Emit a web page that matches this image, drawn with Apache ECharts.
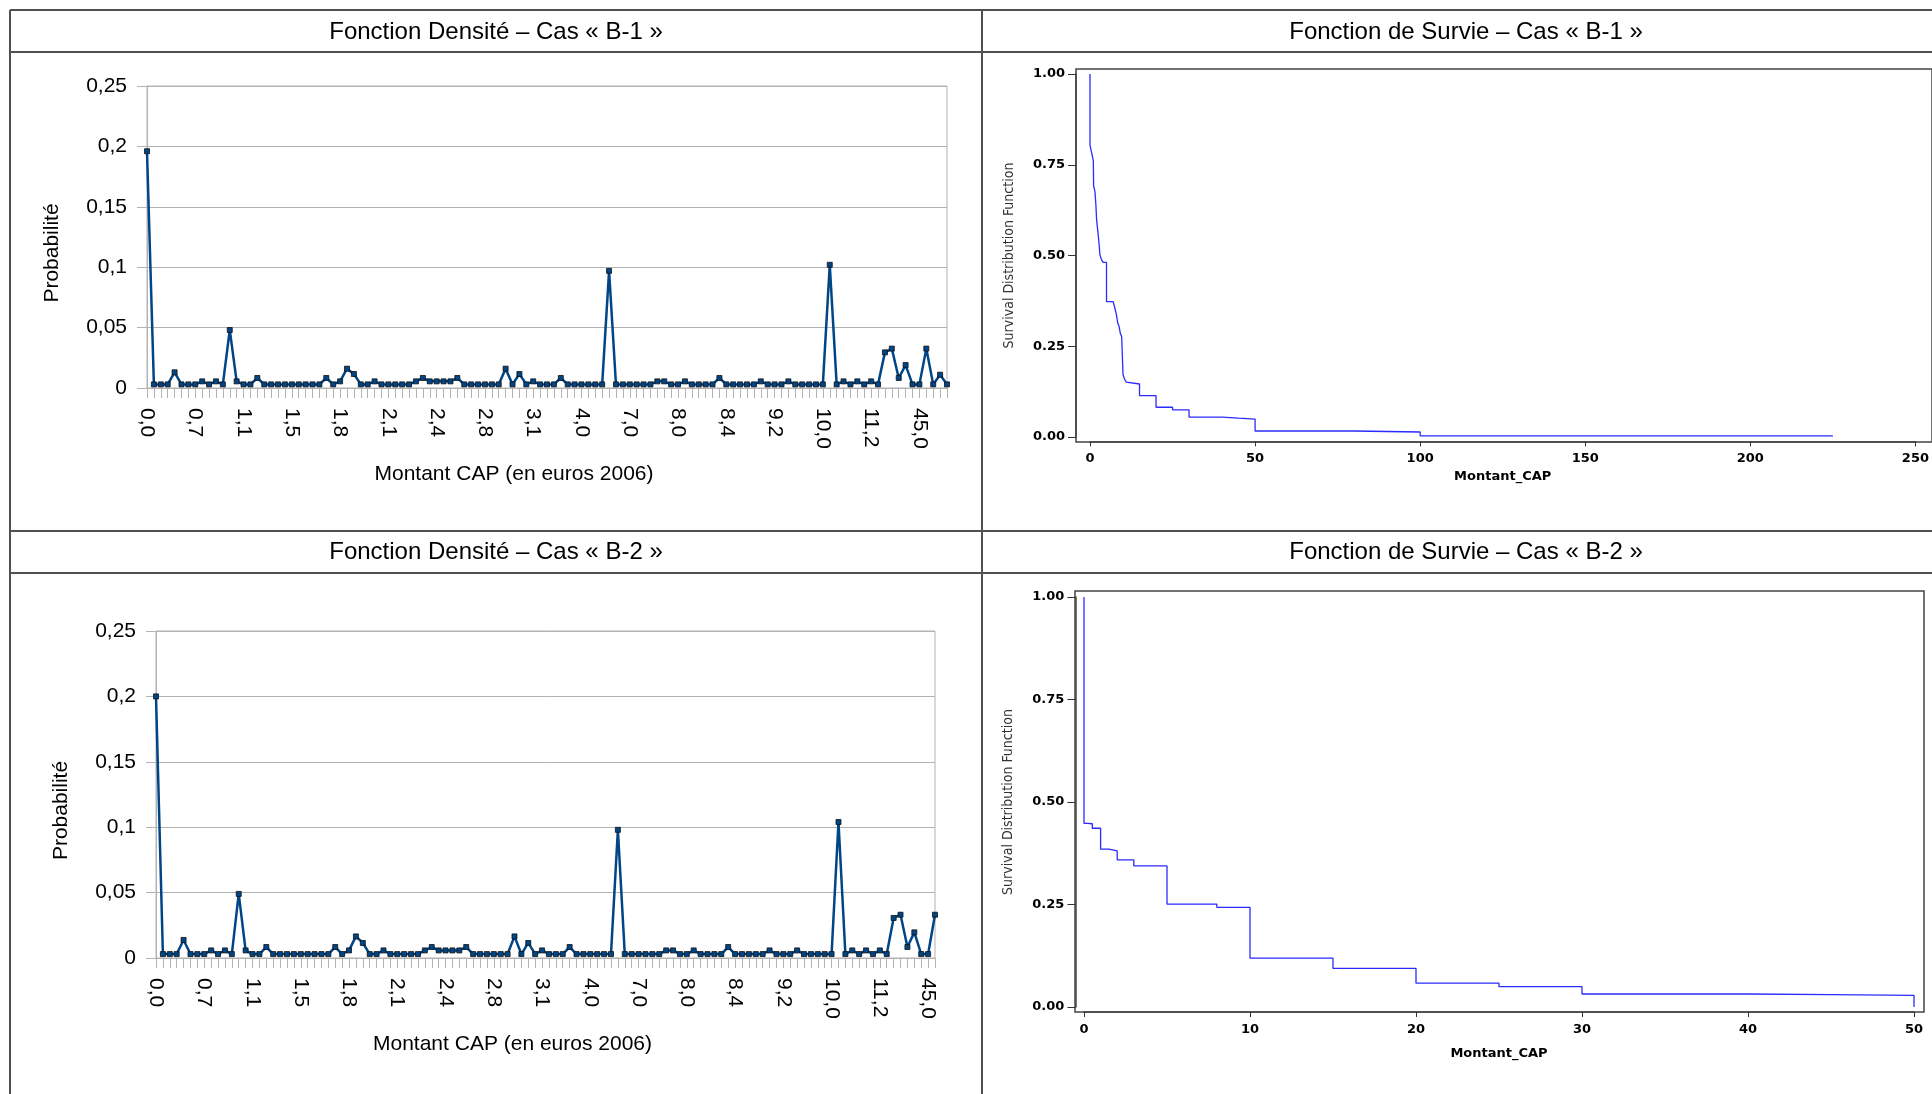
<!DOCTYPE html>
<html>
<head>
<meta charset="utf-8">
<script src="https://cdn.jsdelivr.net/npm/echarts@6/dist/echarts.min.js"></script>
<style>
  html, body { margin: 0; padding: 0; background: #fff; }
  #chart { width: 1932px; height: 1094px; }
</style>
</head>
<body>
<div id="chart"></div>
<script>
// montants CAP (categories, en euros 2006)
var montants = [
  0.0, 0.1, 0.2, 0.3, 0.4, 0.5, 0.6, 0.7, 0.75, 0.8,
  0.9, 0.95, 1.0, 1.05, 1.1, 1.15, 1.2, 1.25, 1.3, 1.35,
  1.4, 1.5, 1.52, 1.55, 1.6, 1.65, 1.7, 1.75, 1.8, 1.85,
  1.9, 1.95, 2.0, 2.02, 2.05, 2.1, 2.15, 2.2, 2.25, 2.3,
  2.33, 2.35, 2.4, 2.45, 2.5, 2.55, 2.6, 2.65, 2.7, 2.8,
  2.85, 2.9, 3.0, 3.02, 3.05, 3.08, 3.1, 3.2, 3.3, 3.4,
  3.5, 3.6, 3.8, 4.0, 4.2, 4.5, 4.8, 5.0, 5.5, 6.0,
  7.0, 7.2, 7.4, 7.5, 7.6, 7.8, 7.9, 8.0, 8.05, 8.1,
  8.15, 8.2, 8.25, 8.3, 8.4, 8.5, 8.6, 8.7, 8.8, 9.0,
  9.1, 9.2, 9.3, 9.4, 9.5, 9.6, 9.7, 9.8, 9.96, 10.0,
  10.2, 10.4, 10.5, 10.8, 11.0, 11.2, 12.0, 15.0, 20.0, 25.0,
  30.0, 40.0, 45.0, 50.0, 80.0, 100.0, 225.0
];

// densite cas B-1 (117 points)
var densiteB1 = [
  0.196, 0.003, 0.003, 0.003, 0.013, 0.003, 0.003, 0.003, 0.0055, 0.003,
  0.0055, 0.003, 0.048, 0.0055, 0.003, 0.003, 0.0083, 0.003, 0.003, 0.003,
  0.003, 0.003, 0.003, 0.003, 0.003, 0.003, 0.0083, 0.003, 0.0055, 0.016,
  0.0116, 0.003, 0.003, 0.0055, 0.003, 0.003, 0.003, 0.003, 0.003, 0.0055,
  0.0083, 0.0055, 0.0055, 0.0055, 0.0055, 0.0083, 0.003, 0.003, 0.003, 0.003,
  0.003, 0.003, 0.016, 0.003, 0.0116, 0.003, 0.0055, 0.003, 0.003, 0.003,
  0.0083, 0.003, 0.003, 0.003, 0.003, 0.003, 0.003, 0.097, 0.003, 0.003,
  0.003, 0.003, 0.003, 0.003, 0.0055, 0.0055, 0.003, 0.003, 0.0055, 0.003,
  0.003, 0.003, 0.003, 0.0083, 0.003, 0.003, 0.003, 0.003, 0.003, 0.0055,
  0.003, 0.003, 0.003, 0.0055, 0.003, 0.003, 0.003, 0.003, 0.003, 0.102,
  0.003, 0.0055, 0.003, 0.0055, 0.003, 0.0055, 0.003, 0.0295, 0.0326, 0.0083,
  0.019, 0.003, 0.003, 0.0326, 0.003, 0.011, 0.003
];

// densite cas B-2 (114 points)
var densiteB2 = [
  0.2, 0.003, 0.003, 0.003, 0.0138, 0.003, 0.003, 0.003, 0.0058, 0.003,
  0.0058, 0.003, 0.049, 0.0058, 0.003, 0.003, 0.0084, 0.003, 0.003, 0.003,
  0.003, 0.003, 0.003, 0.003, 0.003, 0.003, 0.0084, 0.003, 0.0058, 0.0165,
  0.0115, 0.003, 0.003, 0.0058, 0.003, 0.003, 0.003, 0.003, 0.003, 0.0058,
  0.0084, 0.0058, 0.0058, 0.0058, 0.0058, 0.0084, 0.003, 0.003, 0.003, 0.003,
  0.003, 0.003, 0.0165, 0.003, 0.0115, 0.003, 0.0058, 0.003, 0.003, 0.003,
  0.0084, 0.003, 0.003, 0.003, 0.003, 0.003, 0.003, 0.098, 0.003, 0.003,
  0.003, 0.003, 0.003, 0.003, 0.0058, 0.0058, 0.003, 0.003, 0.0058, 0.003,
  0.003, 0.003, 0.003, 0.0084, 0.003, 0.003, 0.003, 0.003, 0.003, 0.0058,
  0.003, 0.003, 0.003, 0.0058, 0.003, 0.003, 0.003, 0.003, 0.003, 0.104,
  0.003, 0.0058, 0.003, 0.0058, 0.003, 0.0058, 0.003, 0.0306, 0.0331, 0.0084,
  0.0196, 0.003, 0.003, 0.0331
];
var montantsB2 = montants.slice(0, densiteB2.length);

// fonction de survie (montant, S)
var survieB1 = [
  [0, 1.0], [0, 0.804], [0.5, 0.783], [1.0, 0.762], [1.1, 0.692], [1.5, 0.676],
  [1.8, 0.637], [2.0, 0.598], [2.5, 0.556], [2.8, 0.527], [3.0, 0.502], [3.5, 0.488],
  [4.0, 0.481], [5.0, 0.373], [7.0, 0.369], [7.5, 0.356], [8.0, 0.337], [8.4, 0.314],
  [8.8, 0.305], [9.2, 0.285], [9.6, 0.276], [10.0, 0.172], [10.3, 0.164], [10.6, 0.157],
  [11.0, 0.151], [11.2, 0.146], [15, 0.114], [20, 0.082], [25, 0.075], [30, 0.055],
  [40, 0.052], [45, 0.0495], [50, 0.0165], [80, 0.0138], [100, 0.003], [225, 0.003]
];
var survieB2 = [
  [0, 1.0], [0, 0.448], [0.2, 0.447], [0.5, 0.436], [1.0, 0.385], [1.5, 0.381],
  [2, 0.359], [3, 0.344], [5, 0.251], [8, 0.243], [10, 0.119], [15, 0.094],
  [20, 0.058], [25, 0.0495], [30, 0.0317], [40, 0.030], [45, 0.0284], [50, 0.0284], [50, 0.0]
];

var sansFont = "'Liberation Sans', Arial, sans-serif";
var sasFont = "'DejaVu Sans', sans-serif";
var gridGray = "#b3b3b3";
var tableCol = "#505050";
var cadreCol = "#444";

function virgule(v) {
  return String(+Number(v).toFixed(2)).replace(".", ",");
}

function densiteAxes(idx, cats) {
  var x = {
    type: "category",
    gridIndex: idx,
    data: cats,
    boundaryGap: false,
    name: "Montant CAP (en euros 2006)",
    nameLocation: "middle",
    nameGap: 76,
    nameTextStyle: { fontFamily: sansFont, fontSize: 21, color: "#000", padding: [0, 66, 0, 0] },
    axisLine: { lineStyle: { color: gridGray, width: 1 } },
    axisTick: { show: true, inside: false, interval: 0, length: 10, lineStyle: { color: gridGray } },
    axisLabel: {
      interval: 6,
      rotate: -90,
      margin: 20,
      fontFamily: sansFont,
      fontSize: 21,
      color: "#000",
      formatter: function (v) { return Number(v).toFixed(1).replace(".", ","); }
    },
    splitLine: { show: false }
  };
  var y = {
    type: "value",
    gridIndex: idx,
    min: 0,
    max: 0.25,
    interval: 0.05,
    name: "Probabilité",
    nameLocation: "middle",
    nameGap: 84,
    nameRotate: 90,
    nameTextStyle: { fontFamily: sansFont, fontSize: 21, color: "#000", padding: [0, 32, 0, 0] },
    axisLine: { show: true, lineStyle: { color: gridGray, width: 1 } },
    axisTick: { show: true, inside: false, length: 10, lineStyle: { color: gridGray } },
    axisLabel: { margin: 20, fontFamily: sansFont, fontSize: 21, color: "#000", formatter: virgule },
    splitLine: { show: true, lineStyle: { color: gridGray, width: 1 } }
  };
  return { x: x, y: y };
}

// survival axes: data grid spans exactly the tick range, axes pushed out to the frame by offset
function survieAxes(idx, xmax, xint, xoff, yoff, nameGapX) {
  var x = {
    type: "value",
    gridIndex: idx,
    position: "bottom",
    min: 0,
    max: xmax,
    interval: xint,
    offset: xoff,
    name: "Montant_CAP",
    nameLocation: "middle",
    nameGap: nameGapX,
    nameTextStyle: { fontFamily: sasFont, fontWeight: "bold", fontSize: 13, color: "#000" },
    axisLine: { show: true, onZero: false, lineStyle: { color: cadreCol, width: 1.5 } },
    axisTick: { show: true, inside: false, length: 5, lineStyle: { color: "#333" } },
    axisLabel: { inside: false, margin: 11, fontFamily: sasFont, fontWeight: "bold", fontSize: 13, color: "#000" },
    splitLine: { show: false }
  };
  var y = {
    type: "value",
    gridIndex: idx,
    position: "left",
    min: 0,
    max: 1,
    interval: 0.25,
    offset: yoff,
    name: "Survival Distribution Function",
    nameLocation: "middle",
    nameGap: 60,
    nameRotate: 90,
    nameTextStyle: { fontFamily: "'Liberation Sans Narrow', 'DejaVu Sans Condensed', 'Liberation Sans', sans-serif", fontSize: 14, color: "#333" },
    axisLine: { show: true, onZero: false, lineStyle: { color: cadreCol, width: 1.5 } },
    axisTick: { show: true, inside: false, length: 8, lineStyle: { color: "#333" } },
    axisLabel: {
      inside: false,
      margin: 11,
      fontFamily: sasFont,
      fontWeight: "bold",
      fontSize: 13,
      color: "#000",
      formatter: function (v) { return Number(v).toFixed(2); }
    },
    splitLine: { show: false }
  };
  return { x: x, y: y };
}

// hidden axes for the frame grids
function cadreAxes(idx) {
  return {
    x: { type: "value", gridIndex: idx, show: false, min: 0, max: 1 },
    y: { type: "value", gridIndex: idx, show: false, min: 0, max: 1 }
  };
}

var a0 = densiteAxes(0, montants);
var a1 = survieAxes(1, 250, 50, 4.4, 14, 29);
var a2 = densiteAxes(2, montantsB2);
var a3 = survieAxes(3, 50, 10, 5, 8.6, 35);
var c1 = cadreAxes(4);
var c3 = cadreAxes(5);

function ligne(x1, y1, x2, y2) {
  return { type: "line", shape: { x1: x1, y1: y1, x2: x2, y2: y2 }, style: { stroke: tableCol, lineWidth: 2 } };
}
function titre(txt, x, y) {
  return {
    type: "text", x: x, y: y,
    style: { text: txt, fontFamily: sansFont, fontSize: 24, fill: "#000", align: "center", verticalAlign: "middle" }
  };
}

var densiteSerie = {
  type: "line",
  symbol: "rect",
  symbolSize: 5,
  showAllSymbol: true,
  lineStyle: { color: "#004586", width: 2.5 },
  itemStyle: { color: "#004586", borderColor: "#111", borderWidth: 0.8 }
};

var option = {
  animation: false,
  backgroundColor: "#fff",
  graphic: [
    ligne(10, 10, 1932, 10),
    ligne(10, 10, 10, 1094),
    ligne(982, 10, 982, 1094),
    ligne(10, 52, 1932, 52),
    ligne(10, 531, 1932, 531),
    ligne(10, 573, 1932, 573),
    titre("Fonction Densité – Cas « B-1 »", 496, 32),
    titre("Fonction de Survie – Cas « B-1 »", 1466, 32),
    titre("Fonction Densité – Cas « B-2 »", 496, 552),
    titre("Fonction de Survie – Cas « B-2 »", 1466, 552)
  ],
  grid: [
    { left: 147, top: 86, width: 800, height: 302, show: true, borderColor: gridGray, borderWidth: 1 },
    { left: 1090, top: 74, width: 830, height: 363 },
    { left: 156, top: 631, width: 779, height: 327, show: true, borderColor: gridGray, borderWidth: 1 },
    { left: 1084, top: 597, width: 830, height: 410 },
    { left: 1076, top: 69, width: 858, height: 373, show: true, borderColor: cadreCol, borderWidth: 1.5 },
    { left: 1075, top: 591, width: 849, height: 421, show: true, borderColor: cadreCol, borderWidth: 1.5 }
  ],
  xAxis: [a0.x, a1.x, a2.x, a3.x, c1.x, c3.x],
  yAxis: [a0.y, a1.y, a2.y, a3.y, c1.y, c3.y],
  series: [
    Object.assign({}, densiteSerie, { name: "Densité B-1", xAxisIndex: 0, yAxisIndex: 0, data: densiteB1 }),
    {
      name: "Survie B-1", type: "line", xAxisIndex: 1, yAxisIndex: 1, step: "end", clip: false,
      symbol: "none", lineStyle: { color: "#2b2bff", width: 1.3 }, data: survieB1
    },
    Object.assign({}, densiteSerie, { name: "Densité B-2", xAxisIndex: 2, yAxisIndex: 2, data: densiteB2 }),
    {
      name: "Survie B-2", type: "line", xAxisIndex: 3, yAxisIndex: 3, step: "end", clip: false,
      symbol: "none", lineStyle: { color: "#2b2bff", width: 1.3 }, data: survieB2
    }
  ]
};

var chart = echarts.init(document.getElementById("chart"));
chart.setOption(option);
</script>
</body>
</html>
